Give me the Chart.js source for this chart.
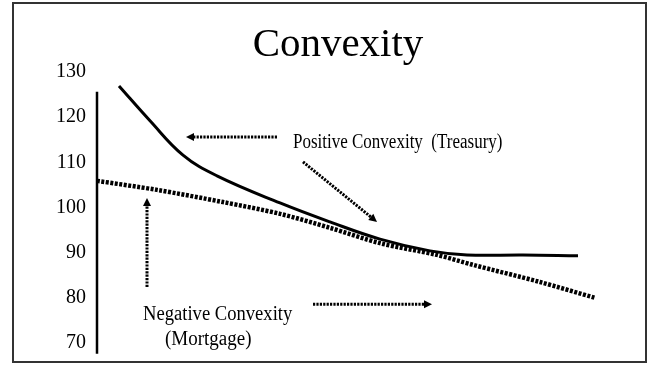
<!DOCTYPE html>
<html lang="en">
<head>
    <meta charset="UTF-8">
    <title>Convexity</title>
    <script src="https://cdn.jsdelivr.net/npm/chart.js"></script>
    <style>
        body { margin: 0; background: #fff; }
        .wrap { position: relative; width: 649px; height: 366px; }
        .frame {
            position: absolute;
            left: 12px; top: 2px;
            width: 631px; height: 357px;
            border: 2px solid #333;
            pointer-events: none;
        }
        canvas { position: absolute; left: 0; top: 0; }
    </style>
</head>
<body>
    <div class="wrap">
        <canvas id="chart" width="649" height="366"></canvas>
        <div class="frame"></div>
    </div>

    <script>
        // y axis tick labels
        const yTicks = [70, 80, 90, 100, 110, 120, 130];

        // Positive convexity (Treasury) - solid curve
        const xTreasury = [4.4, 10.6, 17.2, 24, 36.6, 46.6, 56.6, 66.6, 74, 85.2, 96.2];
        const treasury  = [126.9, 119.2, 111.6, 107.0, 101.0, 96.8, 93.0, 90.4, 89.5, 89.5, 89.3];

        // Negative convexity (Mortgage) - dotted curve
        const xMortgage = [0, 12, 25.2, 36.6, 46.6, 56.6, 68, 75.2, 88.6, 99.6];
        const mortgage  = [105.9, 103.9, 101.2, 98.6, 95.5, 92.1, 89.5, 87.3, 83.5, 80.0];

        // vertical axis line
        const xAxisLine = [0, 0];
        const axisLine  = [125.6, 67.6];

        // annotation arrows (from -> to, data units)
        const arrowFromX = [36, 41.2, 10, 43.2];
        const arrowFromY = [115.6, 110.1, 82.4, 78.6];
        const arrowToX   = [17.8, 56, 10, 67];
        const arrowToY   = [115.6, 96.8, 102.1, 78.6];

        const serif = '"Liberation Serif", "Times New Roman", serif';

        function toPoints(xs, ys) {
            return xs.map((x, i) => ({ x: x, y: ys[i] }));
        }

        function drawText(ctx, text, x, y, size, sx) {
            ctx.save();
            ctx.font = size + 'px ' + serif;
            ctx.fillStyle = '#000';
            ctx.textAlign = 'left';
            ctx.textBaseline = 'alphabetic';
            ctx.translate(x, y);
            ctx.scale(sx, 1);
            ctx.fillText(text, 0, 0);
            ctx.restore();
        }

        function drawCenteredText(ctx, text, cx, y, size, sx) {
            ctx.save();
            ctx.font = size + 'px ' + serif;
            const w = ctx.measureText(text).width * sx;
            ctx.restore();
            drawText(ctx, text, cx - w / 2, y, size, sx);
        }

        const annotations = {
            id: 'annotations',
            afterDatasetsDraw(chart) {
                const ctx = chart.ctx;
                const xs = chart.scales.x, ys = chart.scales.y;

                // arrows
                for (let i = 0; i < arrowFromX.length; i++) {
                    const x1 = xs.getPixelForValue(arrowFromX[i]);
                    const y1 = ys.getPixelForValue(arrowFromY[i]);
                    const x2 = xs.getPixelForValue(arrowToX[i]);
                    const y2 = ys.getPixelForValue(arrowToY[i]);
                    const a = Math.atan2(y2 - y1, x2 - x1);
                    const head = 8;
                    ctx.save();
                    ctx.strokeStyle = '#000';
                    ctx.lineWidth = 3;
                    ctx.setLineDash([2.2, 1.2]);
                    ctx.beginPath();
                    ctx.moveTo(x1, y1);
                    ctx.lineTo(x2 - Math.cos(a) * head * 0.8, y2 - Math.sin(a) * head * 0.8);
                    ctx.stroke();
                    ctx.setLineDash([]);
                    ctx.fillStyle = '#000';
                    ctx.beginPath();
                    ctx.moveTo(x2, y2);
                    ctx.lineTo(x2 - Math.cos(a) * head + Math.sin(a) * 4, y2 - Math.sin(a) * head - Math.cos(a) * 4);
                    ctx.lineTo(x2 - Math.cos(a) * head - Math.sin(a) * 4, y2 - Math.sin(a) * head + Math.cos(a) * 4);
                    ctx.closePath();
                    ctx.fill();
                    ctx.restore();
                }

                // title and labels
                drawCenteredText(ctx, 'Convexity', 338, 56, 39, 1.05);
                drawText(ctx, 'Positive Convexity  (Treasury)', 293, 148, 20, 0.85);
                drawText(ctx, 'Negative Convexity', 143, 320, 20, 0.93);
                drawText(ctx, '(Mortgage)', 165, 345, 20, 0.95);
            }
        };

        new Chart(document.getElementById('chart'), {
            type: 'line',
            data: {
                datasets: [
                    {
                        label: 'Axis',
                        data: toPoints(xAxisLine, axisLine),
                        borderColor: '#000',
                        borderWidth: 2.5,
                        pointRadius: 0,
                        clip: false
                    },
                    {
                        label: 'Negative Convexity (Mortgage)',
                        data: toPoints(xMortgage, mortgage),
                        borderColor: '#000',
                        borderWidth: 4.5,
                        borderDash: [3, 1.5],
                        pointRadius: 0,
                        tension: 0.3,
                        clip: false
                    },
                    {
                        label: 'Positive Convexity (Treasury)',
                        data: toPoints(xTreasury, treasury),
                        borderColor: '#000',
                        borderWidth: 3,
                        pointRadius: 0,
                        tension: 0.4,
                        clip: false
                    }
                ]
            },
            options: {
                responsive: false,
                animation: false,
                layout: { padding: { top: 72, bottom: 23, right: 52, left: 0 } },
                plugins: {
                    legend: { display: false },
                    tooltip: { enabled: false }
                },
                scales: {
                    x: {
                        type: 'linear',
                        min: 0,
                        max: 100,
                        display: false
                    },
                    y: {
                        min: 70,
                        max: 130,
                        afterBuildTicks(scale) {
                            scale.ticks = yTicks.map(v => ({ value: v }));
                        },
                        afterFit(scale) {
                            scale.width = 97;
                        },
                        grid: { display: false, drawTicks: false },
                        border: { display: false },
                        ticks: {
                            padding: 11,
                            color: '#000',
                            font: { family: serif, size: 20 }
                        }
                    }
                }
            },
            plugins: [annotations]
        });
    </script>
</body>
</html>
